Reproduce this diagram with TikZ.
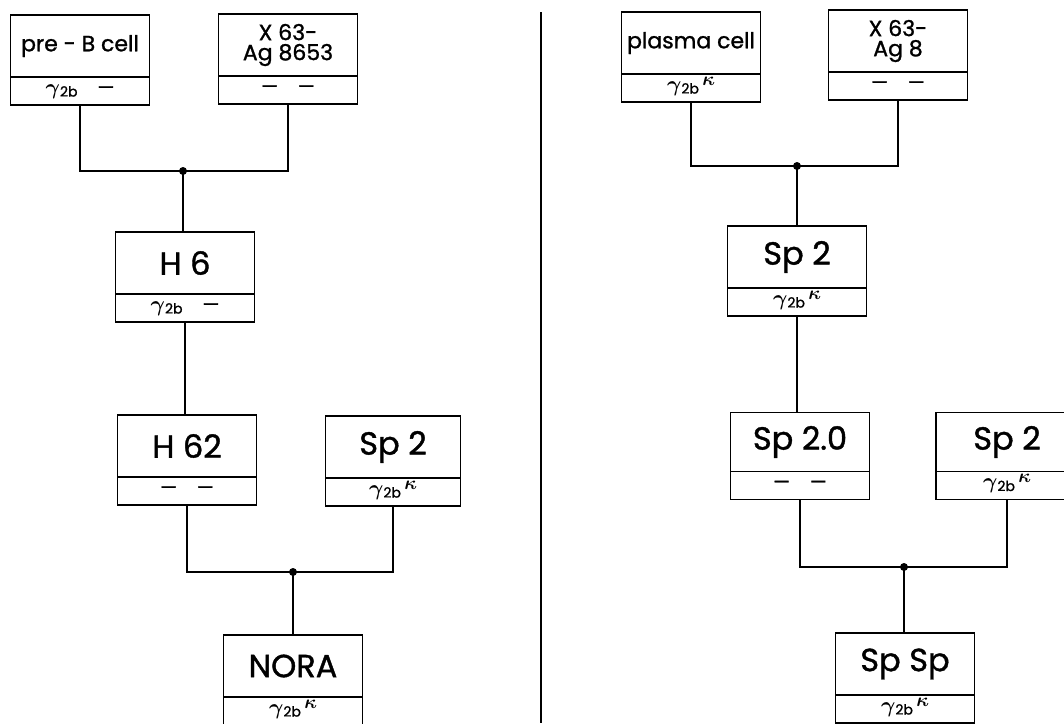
\RequirePackage{fix-cm}
\documentclass[tikz,border=0pt]{standalone}
\usepackage{bm}
\usepackage{fontspec}
\setmainfont{Poppins}[FakeBold=1.2]
\usetikzlibrary{positioning}

\newcommand{\gtwob}{{\fontsize{22}{22}\selectfont$\bm{\gamma}$}\raisebox{-2.5pt}{\fontsize{14}{14}\selectfont 2b}}
\newcommand{\kapup}{\raisebox{6pt}{\fontsize{19}{19}\selectfont$\bm{\kappa}$}}
\newcommand{\nul}{{\fontsize{19}{19}\selectfont ---}}

\begin{document}
\begin{tikzpicture}[x=1pt,y=-1pt,
  cellname/.style={draw,line width=1.6pt,minimum width=139pt,minimum height=62pt,inner sep=0pt,outer sep=0pt,align=center,font=\fontsize{32}{34}\selectfont},
  smallname/.style={cellname,font=\fontsize{22}{20}\selectfont},
  celltype/.style={draw,line width=1.6pt,minimum width=139pt,minimum height=28pt,inner sep=0pt,outer sep=0pt,text height=8pt,text depth=2pt,below=0pt of #1,font=\fontsize{20}{20}\selectfont},
  link/.style={line width=1.6pt},
  dot/.style={circle,fill,inner sep=0pt,minimum size=8pt}
]
\useasboundingbox (0,0) rectangle (1064,723);
\clip (0,0) rectangle (1064,723);
% left tree
\node[smallname] (preb) at (80,46) {pre - B cell};
\node[celltype=preb] (prebty) {\gtwob\quad\nul};
\node[smallname] (x63a) at (288,45) {X 63-\\Ag 8653};
\node[celltype=x63a] (x63aty) {\nul\quad\nul};
\node[cellname] (h6) at (185,263) {H 6};
\node[celltype=h6] (h6ty) {\gtwob\quad\nul};
\node[cellname] (h62) at (187,446) {H 62};
\node[celltype=h62] (h62ty) {\nul\quad\nul};
\node[cellname,minimum width=135pt] (sp2a) at (393,447) {Sp 2};
\node[celltype=sp2a,minimum width=135pt] (sp2aty) {\gtwob\,\kapup};
\node[cellname] (nora) at (293,666) {NORA};
\node[celltype=nora] (noraty) {\gtwob\,\kapup};
% right tree
\node[smallname] (plasma) at (691,43) {plasma cell};
\node[celltype=plasma] (plasmaty) {\gtwob\,\kapup};
\node[smallname] (x63b) at (898,41) {X 63-\\Ag 8};
\node[celltype=x63b] (x63bty) {\nul\quad\nul};
\node[cellname] (sp2b) at (797,257) {Sp 2};
\node[celltype=sp2b] (sp2bty) {\gtwob\,\kapup};
\node[cellname,minimum height=59pt] (sp20) at (800,442) {Sp 2.0};
\node[celltype=sp20] (sp20ty) {\nul\quad\nul};
\node[cellname,minimum height=59pt,minimum width=142pt] (sp2c) at (1007,442) {Sp 2};
\node[celltype=sp2c,minimum width=142pt] (sp2cty) {\gtwob\,\kapup};
\node[cellname] (spsp) at (905,664) {Sp Sp};
\node[celltype=spsp] (spspty) {\gtwob\,\kapup};
% fusions
\coordinate (j1) at (183,171);
\coordinate (j2) at (293,572);
\coordinate (j3) at (797,166);
\coordinate (j4) at (904,567);
\foreach \l/\r/\j/\c in {prebty/x63aty/j1/h6,h62ty/sp2aty/j2/nora,plasmaty/x63bty/j3/sp2b,sp20ty/sp2cty/j4/spsp} {
  \draw[link] (\l.south) |- (\j) -| (\r.south);
  \draw[link] (\j) -- (\j |- \c.north);
  \node[dot] at (\j) {};
}
\draw[link] (h6ty.south) -- (h6ty.south |- h62.north);
\draw[link] (sp2bty.south) -- (sp2bty.south |- sp20.north);
% separator
\draw[line width=1.3pt] (541,12) -- (541,723);
\end{tikzpicture}
\end{document}
